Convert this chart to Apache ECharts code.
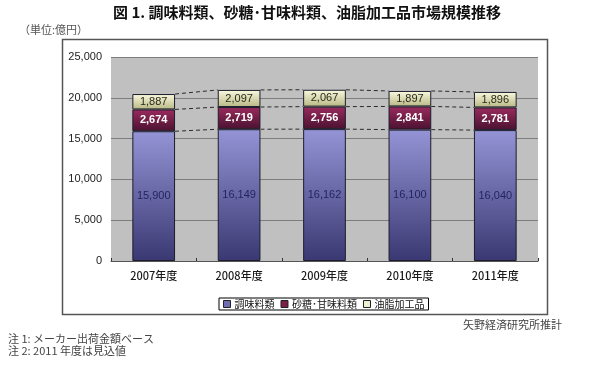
<!DOCTYPE html>
<html>
<head>
<meta charset="utf-8">
<script src="https://cdn.jsdelivr.net/npm/echarts@6/dist/echarts.min.js"></script>
<style>html,body{margin:0;padding:0;background:#fff}#c{width:600px;height:369px}</style>
</head>
<body>
<div id="c"></div>
<script>
const categories = ['2007年度', '2008年度', '2009年度', '2010年度', '2011年度'];
const seriesNames = ['調味料類', '砂糖･甘味料類', '油脂加工品'];
const seasoning = [15900, 16149, 16162, 16100, 16040];
const sugar = [2674, 2719, 2756, 2841, 2781];
const oils = [1887, 2097, 2067, 1897, 1896];
const yTicks = [0, 5000, 10000, 15000, 20000, 25000];

const FONT = '"Noto Sans CJK JP", "Noto Sans", sans-serif';
const chart = echarts.init(document.getElementById('c'), null, {renderer: 'canvas'});

function fmt(v) { return Number(v).toLocaleString('en-US'); }

const lineData = [];
for (let i = 0; i < categories.length - 1; i++) {
  lineData.push([i,
    seasoning[i], seasoning[i] + sugar[i], seasoning[i] + sugar[i] + oils[i],
    seasoning[i + 1], seasoning[i + 1] + sugar[i + 1], seasoning[i + 1] + sugar[i + 1] + oils[i + 1]]);
}

function grad(c1, c2) {
  return new echarts.graphic.LinearGradient(0, 0, 0, 1, [{offset: 0, color: c1}, {offset: 1, color: c2}]);
}

const legendColors = ['#6e6eb4', '#7a1f48', '#f0f0d0'];

const option = {
  animation: false,
  textStyle: {fontFamily: FONT},
  grid: {left: 111, right: 62, top: 57, bottom: 108, show: true, backgroundColor: '#c0c0c0', borderWidth: 0},
  xAxis: {
    type: 'category', data: categories,
    axisLine: {lineStyle: {color: '#555', width: 1}},
    axisTick: {show: true, inside: true, length: 3, lineStyle: {color: '#333'}},
    axisLabel: {fontSize: 11, color: '#1a1a1a', margin: 9, fontFamily: FONT, fontWeight: 500}
  },
  yAxis: {
    type: 'value', min: 0, max: yTicks[yTicks.length - 1], interval: yTicks[1] - yTicks[0],
    axisLine: {show: false}, axisTick: {show: false},
    splitLine: {lineStyle: {color: '#7d7d7d', width: 1}},
    axisLabel: {fontSize: 11, color: '#222', margin: 9, formatter: fmt, fontFamily: 'Arial, "Liberation Sans", sans-serif'}
  },
  legend: {
    left: 219, top: 298, orient: 'horizontal',
    data: seriesNames.map((n, k) => ({name: n, icon: 'rect', itemStyle: {color: legendColors[k], borderColor: '#222', borderWidth: 1}})),
    itemWidth: 7, itemHeight: 7, itemGap: 6,
    padding: [1, 4, 1, 4],
    borderColor: '#000', borderWidth: 1, backgroundColor: '#fff',
    textStyle: {fontSize: 10, color: '#111', padding: [0, 0, 0, -1], fontFamily: FONT}
  },
  series: [
    {
      name: seriesNames[0], type: 'bar', stack: 's', data: seasoning, barWidth: '50%',
      itemStyle: {color: grad('#9494d6', '#3a3872'), borderColor: '#1c1c2c', borderWidth: 1},
      label: {show: true, position: 'inside', formatter: p => fmt(p.value), color: '#24245e', fontSize: 11, fontFamily: 'Arial, "Liberation Sans", sans-serif'}
    },
    {
      name: seriesNames[1], type: 'bar', stack: 's', data: sugar,
      itemStyle: {color: grad('#9a2a5e', '#4a1230'), borderColor: '#1c1c2c', borderWidth: 1},
      label: {show: true, position: 'inside', formatter: p => fmt(p.value), color: '#fff', fontWeight: 'bold', fontSize: 11, fontFamily: 'Arial, "Liberation Sans", sans-serif'}
    },
    {
      name: seriesNames[2], type: 'bar', stack: 's', data: oils,
      itemStyle: {color: grad('#fafae0', '#b8b884'), borderColor: '#1c1c2c', borderWidth: 1},
      label: {show: true, position: 'inside', formatter: p => fmt(p.value), color: '#2a2a1a', fontSize: 11, fontFamily: 'Arial, "Liberation Sans", sans-serif'}
    },
    {
      type: 'custom', silent: true, z: 1,
      data: lineData,
      encode: {x: 0, y: [1, 2, 3]},
      renderItem: function (params, api) {
        const i = api.value(0);
        const bw = api.size([1, 0])[0] * 0.5;
        const children = [];
        for (let k = 0; k < 3; k++) {
          const p1 = api.coord([i, api.value(1 + k)]);
          const p2 = api.coord([i + 1, api.value(4 + k)]);
          children.push({
            type: 'line',
            shape: {x1: p1[0] + bw / 2, y1: p1[1], x2: p2[0] - bw / 2, y2: p2[1]},
            style: {stroke: '#2a2a2a', lineWidth: 1, lineDash: [4, 3]}
          });
        }
        return {type: 'group', children: children};
      }
    }
  ],
  graphic: [
    {type: 'rect', z: -10, silent: true, shape: {x: 62.5, y: 39.5, width: 485, height: 275}, style: {fill: '#fff', stroke: '#555', lineWidth: 1.5}},
    {type: 'text', left: 113, top: 5, style: {text: '図 1. 調味料類、砂糖･甘味料類、油脂加工品市場規模推移', font: 'bold 15px ' + FONT, fill: '#111'}},
    {type: 'text', left: 19, top: 24, style: {text: '（単位:億円）', font: '11px ' + FONT, fill: '#555'}},
    {type: 'text', left: 463, top: 319, style: {text: '矢野経済研究所推計', font: '11px ' + FONT, fill: '#444'}},
    {type: 'text', left: 8, top: 333, style: {text: '注 1: メーカー出荷金額ベース', font: '11px ' + FONT, fill: '#444'}},
    {type: 'text', left: 8, top: 345, style: {text: '注 2: 2011 年度は見込値', font: '11px ' + FONT, fill: '#444'}}
  ]
};
chart.setOption(option);
</script>
</body>
</html>
